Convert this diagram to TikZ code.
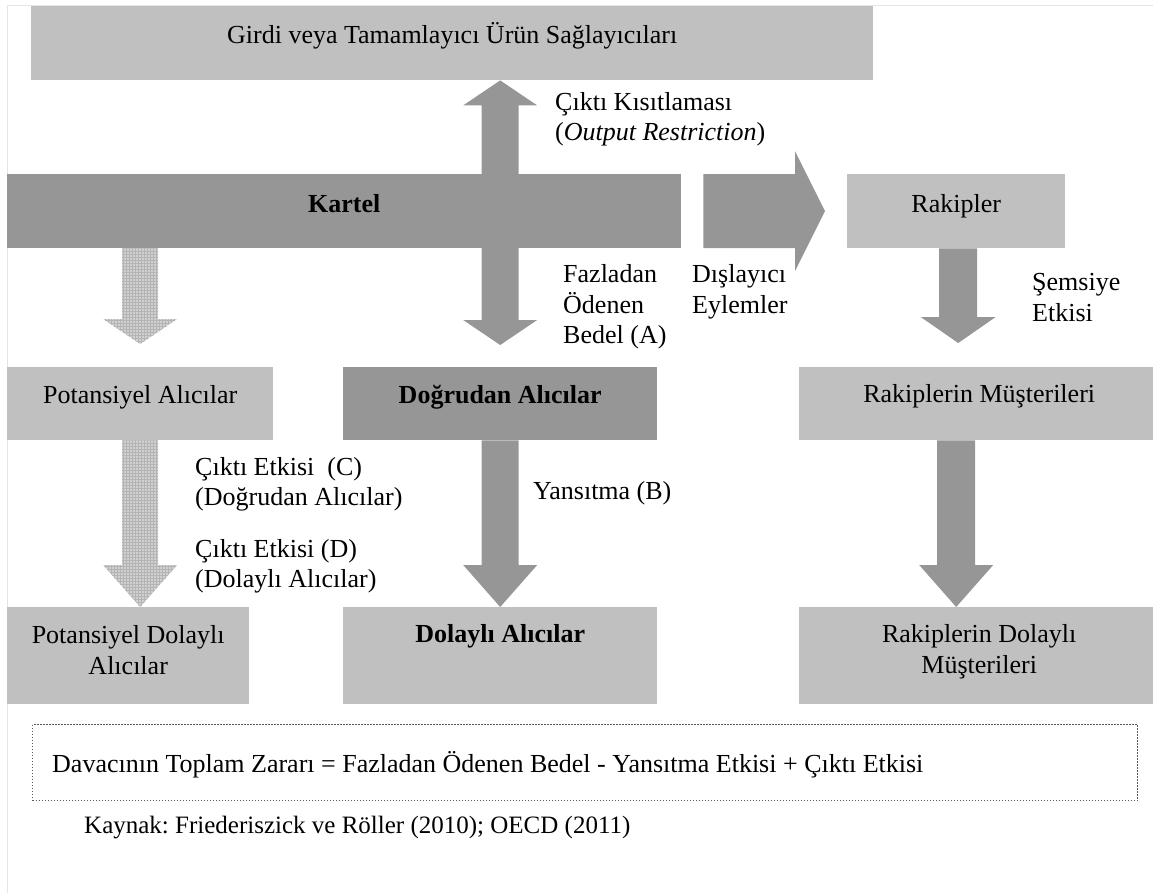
\documentclass[tikz,border=0pt]{standalone}
\usepackage{fontspec}
\setmainfont{Liberation Serif}
\frenchspacing
\usetikzlibrary{calc,patterns}
\definecolor{cdark}{HTML}{969696}
\definecolor{clight}{HTML}{C0C0C0}
\definecolor{cdotfill}{HTML}{D0D0D0}
\definecolor{cdotgrid}{HTML}{B4B4B4}
\definecolor{cframe}{HTML}{E4E4E4}
\newcommand{\twolines}[2]{\vtop{\baselineskip=31pt\halign{\hfil##\hfil\cr #1\cr #2\cr}}}
% down block arrow: style, from, tip, shaft half, head half, head length
\newcommand{\blockdown}[6]{\fill[#1] let \p1=(#2), \p2=(#3) in
  (\x1-#4pt,\y1) -- (\x1+#4pt,\y1) -- (\x1+#4pt,\y2+#6pt) -- (\x1+#5pt,\y2+#6pt)
  -- (\x1,\y2) -- (\x1-#5pt,\y2+#6pt) -- (\x1-#4pt,\y2+#6pt) -- cycle;}
% double vertical block arrow: style, top tip, bottom tip, shaft half, head half, head length
\newcommand{\blockupdown}[6]{\fill[#1] let \p1=(#2), \p2=(#3) in
  (\x1,\y1) -- (\x1+#5pt,\y1-#6pt) -- (\x1+#4pt,\y1-#6pt) -- (\x1+#4pt,\y2+#6pt)
  -- (\x1+#5pt,\y2+#6pt) -- (\x1,\y2) -- (\x1-#5pt,\y2+#6pt) -- (\x1-#4pt,\y2+#6pt)
  -- (\x1-#4pt,\y1-#6pt) -- (\x1-#5pt,\y1-#6pt) -- cycle;}
% right block arrow: style, from, tip, shaft half, head half, head length
\newcommand{\blockright}[6]{\fill[#1] let \p1=(#2), \p2=(#3) in
  (\x1,\y1-#4pt) -- (\x2-#6pt,\y1-#4pt) -- (\x2-#6pt,\y1-#5pt) -- (\x2,\y1)
  -- (\x2-#6pt,\y1+#5pt) -- (\x2-#6pt,\y1+#4pt) -- (\x1,\y1+#4pt) -- cycle;}
\tikzset{
  boxbase/.style={inner sep=0pt, anchor=north west},
  boxdark/.style={boxbase, fill=cdark},
  boxlight/.style={boxbase, fill=clight},
  lbl/.style={inner sep=0pt, anchor=base west},
  arrowdark/.style={fill=cdark},
  arrowdot/.style={preaction={fill=cdotfill}, pattern=grid, pattern color=cdotgrid},
}
\begin{document}
\begin{tikzpicture}[x=1pt,y=-1pt,font=\fontsize{26}{31}\selectfont]
\useasboundingbox (0,0) rectangle (1153,893);
\draw[cframe, line width=1pt] (7,893) -- (7,6) -- (1153,6);

% boxes
\node[boxlight, minimum width=842pt, text height=37pt, text depth=37pt] (top) at (31,6) {Girdi veya Tamamlayıcı Ürün Sağlayıcıları};
\node[boxdark, minimum width=674pt, text height=38pt, text depth=36pt] (kartel) at (7,174) {\bfseries Kartel};
\node[boxlight, minimum width=218pt, text height=38pt, text depth=36pt] (rak) at (847,174) {Rakipler};
\node[boxlight, minimum width=266pt, text height=36pt, text depth=37pt] (pot) at (7,367) {Potansiyel Alıcılar};
\node[boxdark, minimum width=314pt, text height=36pt, text depth=37pt] (dog) at (343,367) {\bfseries Doğrudan Alıcılar};
\node[boxlight, minimum width=360pt, text height=35pt, text depth=38pt] (rm) at (799,367) {Rakiplerin Müşterileri};
\node[boxlight, minimum width=242pt, text height=36pt, text depth=61pt] (potd) at (7,607) {\twolines{Potansiyel Dolaylı}{Alıcılar}};
\node[boxlight, minimum width=314pt, text height=35pt, text depth=62pt] (dol) at (343,607) {\bfseries Dolaylı Alıcılar};
\node[boxlight, minimum width=360pt, text height=35pt, text depth=62pt] (rdm) at (799,607) {\twolines{Rakiplerin Dolaylı}{Müşterileri}};

% arrow end points
\coordinate (ra1) at ([xshift=22pt]kartel.east);
\coordinate (ra2) at ([xshift=-22pt]rak.west);
\coordinate (da1) at (dog.north |- top.south);
\coordinate (da2) at ([yshift=22pt]dog.north);
\coordinate (pa1) at (pot.north |- kartel.south);
\coordinate (pa2) at ([yshift=23pt]pot.north);
\coordinate (pb2) at (pot.south |- potd.north);
\coordinate (rx) at ([xshift=2pt]rak.south);
\coordinate (rk2) at ([yshift=24pt]rx |- rm.north);
\coordinate (rl1) at (rak.south |- rm.south);
\coordinate (rl2) at (rak.south |- rdm.north);

% arrows
\blockright{arrowdark}{ra1}{ra2}{37}{60}{30}
\blockupdown{arrowdark}{da1}{da2}{18.5}{37}{25}
\blockdown{arrowdot}{pa1}{pa2}{18}{37}{25}
\blockdown{arrowdot}{pot.south}{pb2}{18}{37}{42}
\blockdown{arrowdark}{dog.south}{dol.north}{18.5}{37}{42}
\blockdown{arrowdark}{rx}{rk2}{19}{37.5}{26}
\blockdown{arrowdark}{rl1}{rl2}{19}{37}{42}

% labels
\node[lbl] (ck1) at (555,111) {Çıktı Kısıtlaması};
\node[lbl] (ck2) at (555,141) {(\textit{Output Restriction})};
\node[lbl] (fa1) at (563,282) {Fazladan};
\node[lbl] (fa2) at (563,313) {Ödenen};
\node[lbl] (fa3) at (563,343) {Bedel (A)};
\node[lbl] (de1) at (692,282) {Dışlayıcı};
\node[lbl] (de2) at (692,313) {Eylemler};
\node[lbl] (se1) at (1032,290) {Şemsiye};
\node[lbl] (se2) at (1032,321) {Etkisi};
\node[lbl] (ce1) at (195,475) {Çıktı Etkisi\ \ (C)};
\node[lbl] (ce2) at (195,505) {(Doğrudan Alıcılar)};
\node[lbl] (ce3) at (195,557) {Çıktı Etkisi (D)};
\node[lbl] (ce4) at (195,587) {(Dolaylı Alıcılar)};
\node[lbl] (yb) at (533,499) {Yansıtma (B)};

% summary box
\node[boxbase, draw=black!65, line width=1.2pt, dash pattern=on 1.5pt off 1.5pt, minimum width=1105pt, minimum height=76pt] (sum) at (32,724) {};
\node[lbl] (sumtxt) at (52,772) {Davacının Toplam Zararı = Fazladan Ödenen Bedel - Yansıtma Etkisi + Çıktı Etkisi};
\node[lbl, font=\fontsize{25}{30}\selectfont] (src) at (84,833) {Kaynak: Friederiszick ve Röller (2010); OECD (2011)};
\end{tikzpicture}
\end{document}
